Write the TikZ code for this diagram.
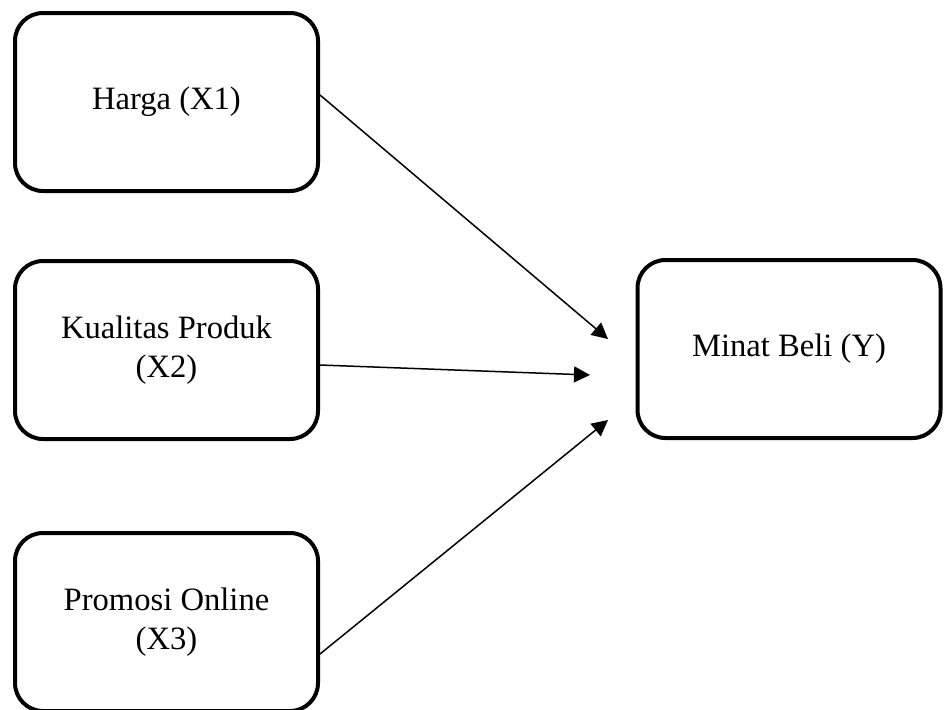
\documentclass[tikz,border=0pt]{standalone}
\usepackage{fontspec}
\setmainfont{Liberation Serif}
\usetikzlibrary{arrows.meta,positioning}

\begin{document}
\begin{tikzpicture}[
    x=0.5pt, y=-0.5pt,
    var/.style={draw, line width=2pt, rounded corners=14pt, minimum width=151.5pt, minimum height=89pt, inner sep=0pt, align=center, font=\fontsize{16.3}{19.8}\selectfont},
    link/.style={line width=0.75pt, -{Triangle[length=8pt,width=8pt]}}
]
\useasboundingbox (0,0) rectangle (944,709);
\node[var] (harga) at (166.5,102) {Harga (X1)};
\node[var] (kualitas) at (166.5,350) {Kualitas Produk\\(X2)};
\node[var] (promosi) at (166.5,622) {Promosi Online\\(X3)};
\node[var] (minat) at (789,349) {Minat Beli (Y)};
\coordinate (t1) at (608,339);
\coordinate (t2) at (590,375);
\coordinate (t3) at (608,420);
\draw[link] ([yshift=3.5pt]harga.east) -- (t1);
\draw[link] ([yshift=-7.5pt]kualitas.east) -- (t2);
\draw[link] ([yshift=-16pt]promosi.east) -- (t3);
\end{tikzpicture}
\end{document}
